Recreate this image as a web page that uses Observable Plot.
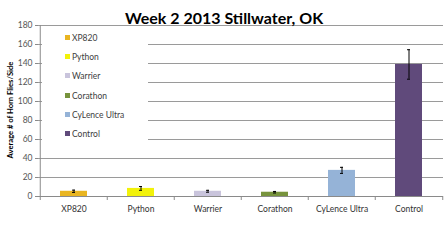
<!DOCTYPE html>
<html><head><meta charset="utf-8">
<script src="https://cdn.jsdelivr.net/npm/d3@7"></script>
<script src="https://cdn.jsdelivr.net/npm/@observablehq/plot@0.6"></script>
<style>
body{margin:0;background:#fff;font-family:Lato,"Open Sans",sans-serif;}
#wrap{position:relative;width:448px;height:241px;overflow:hidden;}
#chart{position:absolute;left:0;top:0;}
#title{position:absolute;left:0;width:448px;top:8px;text-align:center;font-weight:bold;font-size:16px;color:#000;}
#ylab{position:absolute;left:10px;top:110px;transform:translate(-50%,-50%) rotate(-90deg);white-space:nowrap;font-weight:bold;font-size:7.6px;color:#000;}
#legend{position:absolute;left:42px;top:29px;width:106px;height:116px;background:#fff;font-size:8.5px;color:#404040;}
#legend div{position:absolute;left:23px;height:12px;line-height:12px;white-space:nowrap;}
#legend span{display:inline-block;width:5px;height:5px;margin-right:2px;vertical-align:1px;}
</style></head>
<body><div id="wrap"><div id="chart"></div><div id="legend"></div><div id="title">Week 2 2013 Stillwater, OK</div><div id="ylab">Average # of Horn Flies/Side</div></div>
<script>
const categories = ["XP820","Python","Warrier","Corathon","CyLence Ultra","Control"];
const values = [5.5, 8.5, 5.5, 4.5, 27.5, 139];
const errors = [1.2, 2, 1, 0.8, 3.2, 15.5];
const colors = ["#E9B521","#F2F20A","#C9C4DC","#77933C","#95B3D7","#604A7B"];
const yTicks = [0,20,40,60,80,100,120,140,160,180];

const data = categories.map((c,i)=>({cat:c, v:values[i], e:errors[i]}));
const W = 448, H = 241, mL = 38, mR = 5;
const step = (W - mL - mR) / categories.length;

const plot = Plot.plot({
  width: W, height: H,
  marginLeft: mL, marginRight: mR, marginTop: 25, marginBottom: 45,
  style: {fontFamily: "Lato, 'Open Sans', sans-serif", fontSize: "8.5px", background: "#fff"},
  x: {domain: categories, paddingInner: 0.6, paddingOuter: 0.3, label: null},
  y: {domain: [0,180], ticks: yTicks, label: null},
  color: {domain: categories, range: colors},
  marks: [
    Plot.ruleY(yTicks.filter(d=>d>0), {stroke: "#9a9a9a", strokeWidth: 1}),
    Plot.axisY({ticks: yTicks, tickSize: 3, tickPadding: 3, stroke: "#8a8a8a", fill: "#555", fontSize: 8.5}),
    Plot.axisX({tickSize: 0, tickPadding: 9, fill: "#333", fontSize: 8.5}),
    Plot.barY(data, {x: "cat", y: "v", fill: "cat"}),
    Plot.ruleX(data, {x: "cat", y1: d=>d.v-d.e, y2: d=>d.v+d.e, stroke: "#000", strokeWidth: 1}),
    Plot.tickY(data, {x: "cat", y: d=>d.v+d.e, stroke: "#000", insetLeft: 12, insetRight: 12}),
    Plot.tickY(data, {x: "cat", y: d=>d.v-d.e, stroke: "#000", insetLeft: 12, insetRight: 12}),
    Plot.ruleY([0], {stroke: "#8a8a8a"}),
    Plot.ruleX(categories, {x: d=>d, dx: -step/2, y1: 0, y2: 0, stroke: "#8a8a8a", insetBottom: -4}),
    Plot.ruleX([categories[categories.length-1]], {x: d=>d, dx: step/2, y1: 0, y2: 0, stroke: "#8a8a8a", insetBottom: -4}),
    Plot.ruleX([0], {x: ()=>categories[0], dx: -step/2, stroke: "#8a8a8a"})
  ]
});
document.getElementById("chart").appendChild(plot);

const leg = document.getElementById("legend");
categories.forEach((c,i)=>{
  const d = document.createElement("div");
  d.style.top = (3 + i*19.2) + "px";
  d.innerHTML = `<span style="background:${colors[i]}"></span>${c}`;
  leg.appendChild(d);
});
</script></body></html>
